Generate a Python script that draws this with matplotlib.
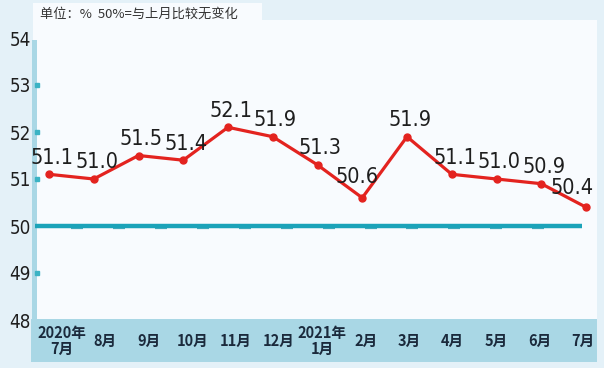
#!/usr/bin/env python3
"""
plot.py

Monthly index line chart (percent, 50 = no change vs previous month).
"""

import matplotlib
matplotlib.use("Agg")
import numpy as np
import matplotlib.pyplot as plt
from matplotlib.patches import Rectangle

# data
months = ["2020年\n7月", "8月", "9月", "10月", "11月", "12月", "2021年\n1月",
          "2月", "3月", "4月", "5月", "6月", "7月"]
values = [51.1, 51.0, 51.5, 51.4, 52.1, 51.9, 51.3, 50.6, 51.9, 51.1, 51.0, 50.9, 50.4]
y_ticks = [48, 49, 50, 51, 52, 53, 54]
dot_ticks = [49, 51, 52, 53]
baseline = 50
title = "单位：%  50%=与上月比较无变化"

W, H = 604, 368
BG = "#e4f1f8"
PANEL = "#f8fbfe"
BAND = "#a9d7e5"
TEAL = "#1ba3b9"
RED = "#e3231f"

NUM_FONT = ["DejaVu Sans"]
CJK_FONT = ["Noto Sans CJK SC", "DejaVu Sans"]


def fx(px):
    return px / W


def fy(py):
    return (H - py) / H


def frect(fig, x0, y0, x1, y1, color):
    # rectangle given in image pixel coords (y down)
    fig.patches.append(Rectangle((fx(x0), fy(y1)), fx(x1) - fx(x0), fy(y0) - fy(y1),
                                 transform=fig.transFigure, facecolor=color,
                                 edgecolor="none", zorder=-5))


def main():
    fig = plt.figure(figsize=(W / 100, H / 100), dpi=100)
    fig.patch.set_facecolor(BG)

    # white panel, title box, bottom band, left axis bar
    frect(fig, 33, 20, 597, 319, PANEL)
    frect(fig, 33, 3, 262, 20, PANEL)
    frect(fig, 31, 319, 597, 362, BAND)
    frect(fig, 32, 40, 36.5, 319, BAND)

    fig.text(fx(40), fy(14), title, fontsize=9.5, color="#333333",
             family=CJK_FONT, ha="left", va="center")

    # axes: 54 at y=38px, 48 at y=320px; point 0 at x=49px, 44.75px per step
    ax = fig.add_axes([fx(35), fy(320), fx(597) - fx(35), fy(38) - fy(320)])
    ax.set_zorder(2)
    ax.set_facecolor("none")
    step = 44.75
    ax.set_xlim((35 - 49) / step, (597 - 49) / step)
    ax.set_ylim(48, 54)
    for s in ax.spines.values():
        s.set_visible(False)
    ax.set_xticks([])
    ax.set_yticks(y_ticks)
    ax.set_yticklabels([str(t) for t in y_ticks], family=NUM_FONT,
                       stretch="condensed", fontsize=13.5, color="#1e1e1e")
    ax.tick_params(axis="y", length=0, pad=3)

    # small tick dots on the left axis bar
    ax.plot(np.full(len(dot_ticks), ax.get_xlim()[0] + 0.04), dot_ticks, "s",
            color="#3bb3c4", markersize=2.5, clip_on=False)

    x = np.arange(len(values))

    # 50% reference line with small tabs peeking out underneath
    ax.plot([ax.get_xlim()[0], 11.9], [baseline, baseline], color=TEAL,
            linewidth=3.2, solid_capstyle="butt", zorder=2)
    tabs = np.linspace(0.63, 10.93, 12)
    ax.plot(tabs, np.full(len(tabs), baseline - 0.04), "_", color="#4aaabb",
            markersize=8, markeredgewidth=1.6, zorder=1)

    # data line
    ax.plot(x, values, color=RED, linewidth=2.3, marker="o", markersize=5,
            zorder=3)
    for i, v in enumerate(values):
        dx, dy = 2, 12
        if i == len(values) - 1:
            dx, dy = -10, 14
        elif i == 7:
            dx, dy = -4, 15
        ax.annotate(f"{v:.1f}", (i, v), xytext=(dx, dy), textcoords="offset points",
                    ha="center", va="center", family=NUM_FONT, stretch="condensed",
                    fontsize=15.5, color="#1e1e1e", annotation_clip=False)

    # month labels in the bottom band
    label_x = np.linspace(0.29, 11.93, len(months))
    for lx, m in zip(label_x, months):
        px = ax.transData.transform((lx, 0))[0]
        fig.text(px / (fig.dpi * fig.get_figwidth()), fy(341), m,
                 fontsize=10.5, fontweight="bold", color="#1b2a3c",
                 family=CJK_FONT, ha="center", va="center", linespacing=1.05)

    fig.savefig("out.png", dpi=100, facecolor=BG)


if __name__ == "__main__":
    main()
